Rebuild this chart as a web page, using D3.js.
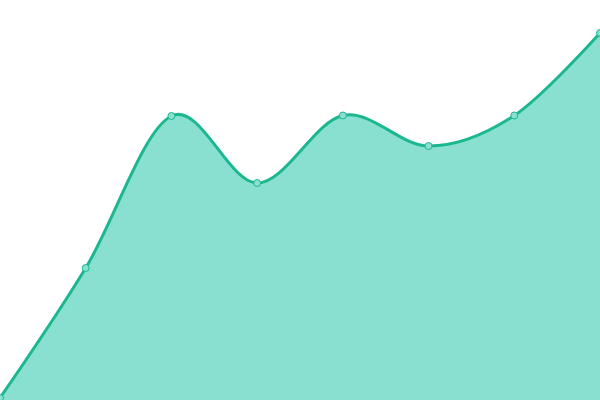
<!DOCTYPE html>
<html>
<head>
<meta charset="utf-8">
<script src="https://cdn.jsdelivr.net/npm/d3@7"></script>
<style>
  body { margin: 0; background: #fff; }
  svg { display: block; }
</style>
</head>
<body>
<svg id="chart"></svg>
<script>
const width = 600;
const height = 400;

const categories = [0, 1, 2, 3, 4, 5, 6, 7];
const values = [2, 132, 284, 217, 284.5, 254, 284.5, 367];

const x = d3.scaleLinear()
  .domain([0, categories.length - 1])
  .range([0, width]);

const y = d3.scaleLinear()
  .domain([0, 400])
  .range([height, 0]);

const svg = d3.select("#chart")
  .attr("width", width)
  .attr("height", height);

const data = categories.map((c, i) => ({ c: c, v: values[i] }));

const area = d3.area()
  .curve(d3.curveCardinal.tension(0))
  .x(function(d) { return x(d.c); })
  .y0(y(0))
  .y1(function(d) { return y(d.v); });

const line = d3.line()
  .curve(d3.curveCardinal.tension(0))
  .x(function(d) { return x(d.c); })
  .y(function(d) { return y(d.v); });

svg.append("path")
  .datum(data)
  .attr("d", area)
  .attr("fill", "#8ae0d0");

svg.append("path")
  .datum(data)
  .attr("d", line)
  .attr("fill", "none")
  .attr("stroke", "#1bb890")
  .attr("stroke-width", 3);

svg.selectAll(".dot")
  .data(data)
  .enter()
  .append("circle")
  .attr("class", "dot")
  .attr("cx", function(d) { return x(d.c); })
  .attr("cy", function(d) { return y(d.v); })
  .attr("r", 3.5)
  .attr("fill", "#8ae0d0")
  .attr("stroke", "#1bb890")
  .attr("stroke-width", 1);
</script>
</body>
</html>
